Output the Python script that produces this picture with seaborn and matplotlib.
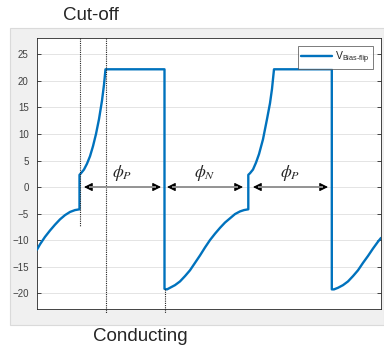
import matplotlib
matplotlib.use("Agg")
import matplotlib.pyplot as plt
from matplotlib.patches import Rectangle
import pandas as pd
import seaborn as sns

# Bias-flip voltage trace (time in arbitrary units, voltage in V)
t = [0, 3, 8, 13, 18, 23, 28, 33, 38, 42.5,
     42.5, 44, 47, 50, 53, 56, 59, 62, 65, 67, 68.5,
     127.5, 127.5,
     130, 133, 138, 143, 148, 153, 158, 163, 168, 173, 178, 183, 188, 193, 198, 203, 207, 211.3,
     211.3, 213, 216, 219, 222, 226, 230, 233, 235, 237,
     294.8, 294.8,
     297, 301, 306, 311, 316, 321, 326, 331, 336, 341, 344]
v = [-11.8, -10.8, -9.4, -8.2, -7.1, -6.1, -5.3, -4.7, -4.35, -4.2,
     2.3, 2.6, 3.3, 4.4, 5.8, 7.7, 10.0, 12.8, 16.3, 19.3, 22.2,
     22.2, -19.2,
     -19.3, -19.0, -18.5, -17.8, -16.8, -15.7, -14.3, -12.9, -11.4, -10.0, -8.8, -7.7, -6.7, -5.9, -5.1, -4.6, -4.35, -4.2,
     2.3, 2.6, 3.3, 4.6, 6.2, 9.0, 12.8, 15.8, 18.5, 22.2,
     22.2, -19.3,
     -19.3, -19.0, -18.5, -17.8, -16.8, -15.7, -14.3, -13.0, -11.6, -10.3, -9.6]

# Phase intervals marked with arrows along v = 0
phase_labels = [r"$\phi_P$", r"$\phi_N$", r"$\phi_P$"]
phase_start = [47, 130, 216]
phase_end = [124, 206, 291]

# Switching instants (cut-off, start of conduction, flip)
t_cutoff = 42.5
t_conduct = 68.5
t_flip = 127.5

y_ticks = [-20, -15, -10, -5, 0, 5, 10, 15, 20, 25]

sns.set_style("white")
plt.rcParams["font.family"] = ["Liberation Sans", "DejaVu Sans"]
plt.rcParams["mathtext.fontset"] = "custom"
plt.rcParams["mathtext.rm"] = "Liberation Sans"
plt.rcParams["mathtext.it"] = "Liberation Sans:italic"

fig = plt.figure(figsize=(3.84, 3.5), dpi=100)
fig.patch.set_facecolor("white")
fig.add_artist(Rectangle((10 / 384, 1 - 325 / 350), 374 / 384, 297 / 350,
                         transform=fig.transFigure, facecolor="#f0f0f0",
                         edgecolor="#dadada", lw=0.8, zorder=0))
ax = fig.add_axes([37 / 384, 1 - 309 / 350, 344 / 384, 271 / 350])
ax.set_facecolor("white")

df = pd.DataFrame({"t": t, "v": v})
sns.lineplot(data=df, x="t", y="v", sort=False, estimator=None, ax=ax,
             color="#0072BD", lw=1.7, label=r"V$_{\mathrm{Bias\text{-}flip}}$", zorder=3)

ax.set_xlim(0, 344)
ax.set_ylim(-23.0, 28.1)
ax.set_xticks([])
ax.set_yticks(y_ticks)
ax.set_xlabel("")
ax.set_ylabel("")
ax.grid(axis="y", color="#e4e4e4", lw=0.7)
ax.set_axisbelow(True)
ax.tick_params(axis="y", direction="in", length=3, width=0.6, colors="#262626",
               labelcolor="#404040", labelsize=7, pad=6, right=True, left=True)
for s in ax.spines.values():
    s.set_color("#262626")
    s.set_linewidth(0.6)

# Dotted markers at the switching instants
dot = dict(color="#222222", ls=(0, (1, 1)), lw=0.8, clip_on=False, zorder=4)
ax.plot([t_cutoff, t_cutoff], [28.1, -7.4], **dot)
ax.plot([t_conduct, t_conduct], [28.1, -23.8], **dot)
ax.plot([t_flip, t_flip], [-19.3, -23.8], **dot)

# Phase arrows (black heads, grey shaft) and labels
for lab, a, b in zip(phase_labels, phase_start, phase_end):
    ax.annotate("", xy=(b, 0), xytext=(a, 0),
                arrowprops=dict(arrowstyle="<|-|>,head_length=0.5,head_width=0.25",
                                color="black", lw=0.8,
                                shrinkA=0, shrinkB=0), zorder=5)
    ax.plot([a + 5, b - 5], [0, 0], color="#9a9a9a", lw=1.3, zorder=6,
            solid_capstyle="butt")
    txt = ax.text((a + b) / 2, 2.7, lab, ha="center", va="center", fontsize=12.5)
    txt.set_math_fontfamily("stix")

leg = ax.legend(loc="upper right", bbox_to_anchor=(1 - 8 / 344, 1 - 8 / 271),
                borderaxespad=0, fontsize=7.5, handlelength=3.0, handletextpad=0.3,
                frameon=True, fancybox=False, borderpad=0.3)
leg.get_frame().set_edgecolor("#404040")
leg.get_frame().set_linewidth(0.6)

fig.text(91 / 384, 1 - 20.5 / 350, "Cut-off", ha="center", va="baseline", fontsize=13.5)
fig.text(140 / 384, 1 - 341 / 350, "Conducting", ha="center", va="baseline", fontsize=13.5)

fig.savefig("out.png", dpi=100)
